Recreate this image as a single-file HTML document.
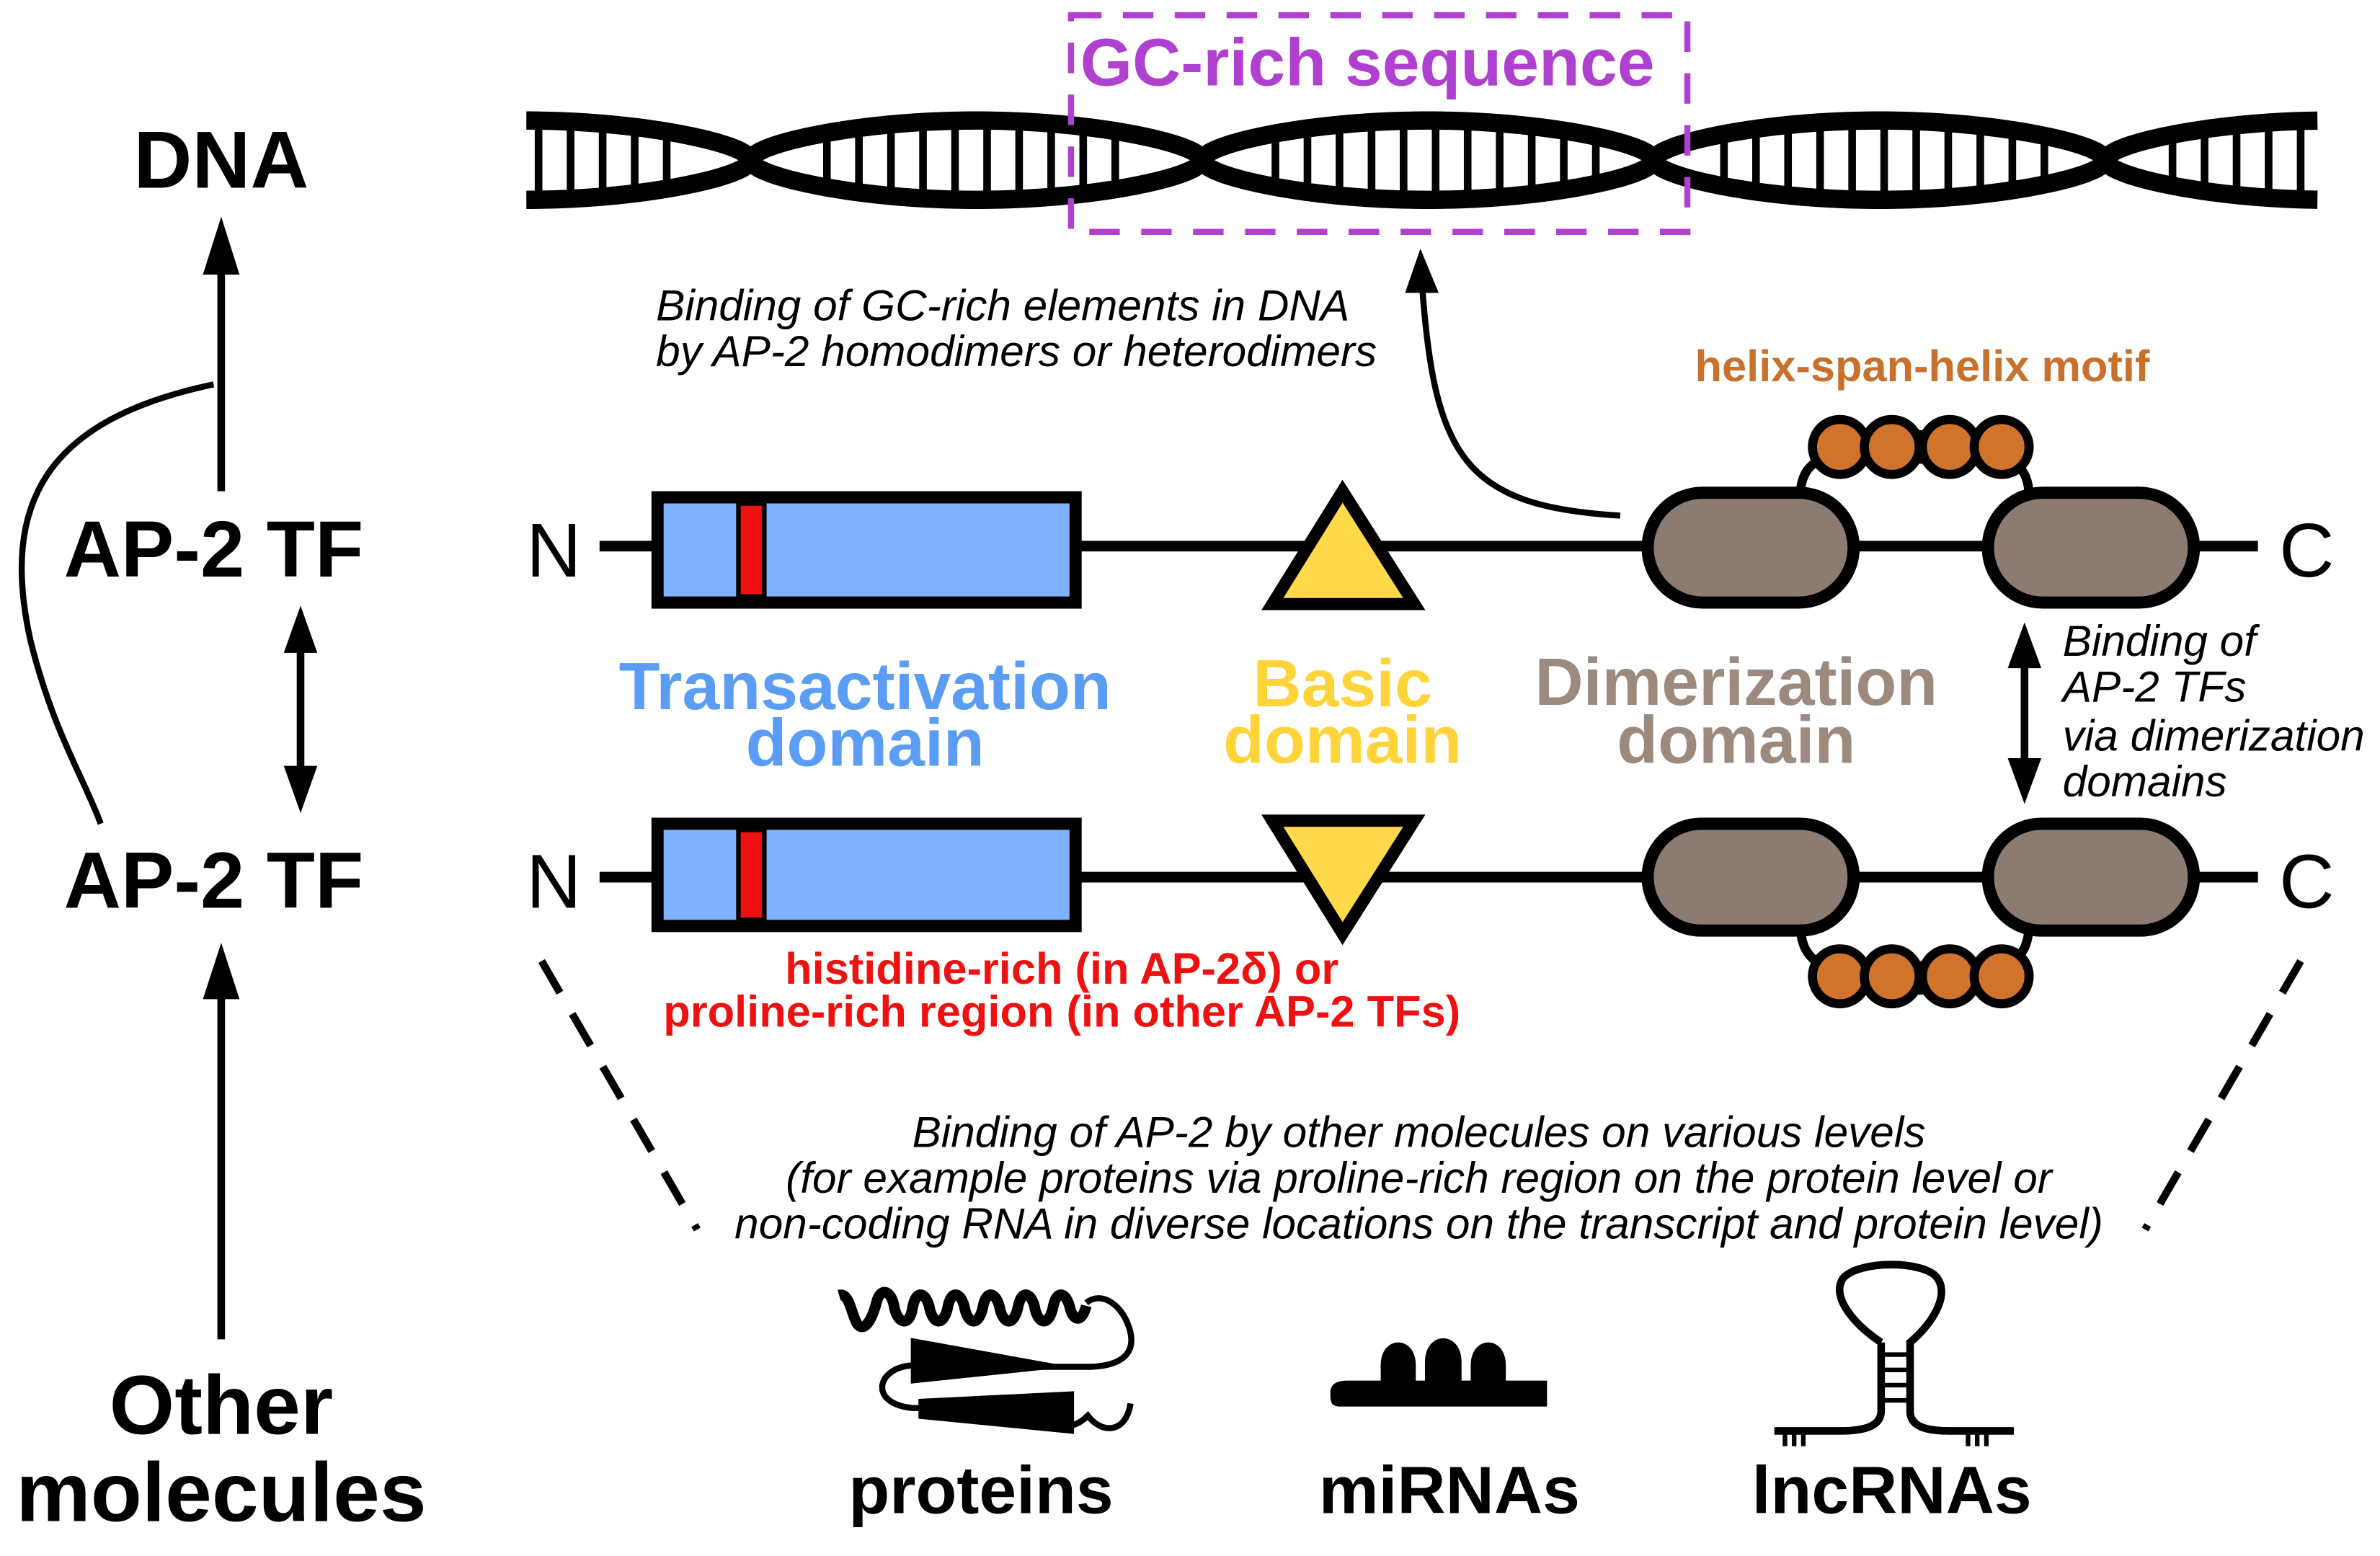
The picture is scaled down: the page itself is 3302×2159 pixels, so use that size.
<!DOCTYPE html>
<html><head><meta charset="utf-8"><style>
html,body{margin:0;padding:0;background:#fff;}
svg{display:block}
text{font-family:"Liberation Sans",sans-serif;}
.b{font-weight:bold}
.i{font-style:italic;font-size:28.5px}
</style></head><body>
<svg id="s" width="3302" height="2159" viewBox="0 0 1560 1020" preserveAspectRatio="none" xmlns="http://www.w3.org/2000/svg">
<g id="dna"></g>
<!-- GC box -->
<rect x="702" y="10" width="404" height="142" fill="none" stroke="#b040d0" stroke-width="4" stroke-dasharray="20 14"/>
<text x="708" y="56" class="b" font-size="44" fill="#b040d0">GC-rich sequence</text>

<!-- Left column -->
<text x="145" y="123" class="b" font-size="53" text-anchor="middle">DNA</text>
<line x1="145" y1="322" x2="145" y2="170" stroke="#000" stroke-width="5"/>
<polygon points="145,142 133,180 157,180" fill="#000"/>
<path d="M140,252 C 30,275 0,330 20,420 C 35,480 55,510 66,540" fill="none" stroke="#000" stroke-width="4"/>
<text x="140" y="378" class="b" font-size="52" text-anchor="middle">AP-2 TF</text>
<text x="140" y="595" class="b" font-size="52" text-anchor="middle">AP-2 TF</text>
<line x1="197" y1="420" x2="197" y2="510" stroke="#000" stroke-width="5"/>
<polygon points="197,397 186,428 208,428" fill="#000"/>
<polygon points="197,533 186,502 208,502" fill="#000"/>
<line x1="145" y1="878" x2="145" y2="645" stroke="#000" stroke-width="5"/>
<polygon points="145,618 133,655 157,655" fill="#000"/>
<text x="145" y="940" class="b" font-size="55" text-anchor="middle">Other</text>
<text x="145" y="997" class="b" font-size="55" text-anchor="middle">molecules</text>

<!-- Row 1 -->
<text x="363" y="378" font-size="50" text-anchor="middle">N</text>
<line x1="393" y1="358" x2="1480" y2="358" stroke="#000" stroke-width="7"/>
<rect x="431" y="326" width="274" height="69" fill="#7fb2ff" stroke="#000" stroke-width="8"/>
<rect x="484" y="330" width="17" height="61" fill="#ee1111" stroke="#000" stroke-width="3"/>
<polygon points="880,322 834,396 927,396" fill="#ffd94a" stroke="#000" stroke-width="8"/>
<g stroke="#000" stroke-width="6" fill="#d0732c">
<path d="M1180,326 C1180,312 1185,305 1195,300 M1330,326 C1330,312 1325,305 1315,300" fill="none"/>
<circle cx="1206" cy="293" r="18"/><circle cx="1240" cy="293" r="18"/><circle cx="1278" cy="293" r="18"/><circle cx="1312" cy="293" r="18"/>
</g>
<line x1="1259" y1="282" x2="1259" y2="304" stroke="#000" stroke-width="5"/>
<rect x="1080" y="323" width="135" height="72" rx="36" fill="#8c7b70" stroke="#000" stroke-width="8"/>
<rect x="1303" y="323" width="135" height="72" rx="36" fill="#8c7b70" stroke="#000" stroke-width="8"/>
<text x="1512" y="378" font-size="50" text-anchor="middle">C</text>

<!-- Row 2 -->
<text x="363" y="595" font-size="50" text-anchor="middle">N</text>
<line x1="393" y1="575" x2="1480" y2="575" stroke="#000" stroke-width="7"/>
<rect x="431" y="540" width="274" height="67" fill="#7fb2ff" stroke="#000" stroke-width="8"/>
<rect x="484" y="544" width="17" height="59" fill="#ee1111" stroke="#000" stroke-width="3"/>
<polygon points="834,538 927,538 880,612" fill="#ffd94a" stroke="#000" stroke-width="8"/>
<g stroke="#000" stroke-width="6" fill="#d0732c">
<path d="M1180,605 C1180,620 1185,628 1195,633 M1330,605 C1330,620 1325,628 1315,633" fill="none"/>
<circle cx="1206" cy="640" r="18"/><circle cx="1240" cy="640" r="18"/><circle cx="1278" cy="640" r="18"/><circle cx="1312" cy="640" r="18"/>
</g>
<line x1="1259" y1="630" x2="1259" y2="652" stroke="#000" stroke-width="5"/>
<rect x="1080" y="540" width="135" height="70" rx="35" fill="#8c7b70" stroke="#000" stroke-width="8"/>
<rect x="1303" y="540" width="135" height="70" rx="35" fill="#8c7b70" stroke="#000" stroke-width="8"/>
<text x="1512" y="595" font-size="50" text-anchor="middle">C</text>

<!-- Domain labels -->
<g class="b" font-size="44" text-anchor="middle">
<text x="567" y="465" fill="#5b9cf5">Transactivation</text>
<text x="567" y="502" fill="#5b9cf5">domain</text>
<text x="880" y="463" fill="#ffd43b">Basic</text>
<text x="880" y="500" fill="#ffd43b">domain</text>
<text x="1138" y="462" fill="#9b8a7d">Dimerization</text>
<text x="1138" y="500" fill="#9b8a7d">domain</text>
</g>
<text x="1260" y="250" class="b" font-size="29" fill="#c8702c" text-anchor="middle">helix-span-helix motif</text>

<text x="430" y="210" class="i">Binding of GC-rich elements in DNA</text>
<text x="430" y="240" class="i">by AP-2 homodimers or heterodimers</text>
<path d="M1062,338 C 960,332 940,300 932,185" fill="none" stroke="#000" stroke-width="4"/>
<polygon points="931,163 921,192 943,192" fill="#000"/>

<line x1="1327" y1="430" x2="1327" y2="505" stroke="#000" stroke-width="5"/>
<polygon points="1327,408 1316,438 1338,438" fill="#000"/>
<polygon points="1327,527 1316,497 1338,497" fill="#000"/>
<text x="1352" y="430" class="i">Binding of</text>
<text x="1352" y="460" class="i">AP-2 TFs</text>
<text x="1352" y="492" class="i">via dimerization</text>
<text x="1352" y="522" class="i">domains</text>

<text x="696" y="645" class="b" font-size="29" fill="#ee1111" text-anchor="middle">histidine-rich (in AP-2δ) or</text>
<text x="696" y="673" class="b" font-size="29" fill="#ee1111" text-anchor="middle">proline-rich region (in other AP-2 TFs)</text>

<line x1="355" y1="630" x2="457" y2="806" stroke="#000" stroke-width="5" stroke-dasharray="24 16"/>
<line x1="1508" y1="630" x2="1406" y2="806" stroke="#000" stroke-width="5" stroke-dasharray="24 16"/>
<text x="930" y="752" class="i" text-anchor="middle">Binding of AP-2 by other molecules on various levels</text>
<text x="930" y="782" class="i" text-anchor="middle">(for example proteins via proline-rich region on the protein level or</text>
<text x="930" y="812" class="i" text-anchor="middle">non-coding RNA in diverse locations on the transcript and protein level)</text>

<!-- proteins icon -->
<g fill="none" stroke="#000" stroke-width="7" stroke-linejoin="round">
<path d="M550,849 C557,847 558,862 562,868 C567,874 572,864 575,852 C578,844 584,846 586,856 C588,868 596,870 598,858 C600,846 606,846 609,856 C611,868 618,870 621,858 C623,846 629,846 632,856 C634,868 641,870 644,858 C646,846 652,846 655,856 C657,868 664,870 667,858 C669,846 675,846 678,856 C680,868 687,870 690,858 C692,846 698,846 701,856 C703,866 709,868 712,856"/>
</g>
<g fill="none" stroke="#000" stroke-width="4">
<path d="M712,854 C722,846 735,855 740,870 C745,885 738,895 715,896 L680,896"/>
<path d="M600,895 C 575,895 568,920 598,923 L610,923"/>
<path d="M690,934 C700,936 706,935 713,928 C722,940 738,940 741,920"/>
</g>
<polygon points="597,877 702,896 597,907" fill="#000"/>
<polygon points="602,917 704,912 704,940 602,930" fill="#000"/>
<!-- miRNA icon -->
<g fill="#000">
<path d="M872,913 C872,906 878,905 884,905 L1014,905 L1014,922 L878,922 C872,922 872,918 872,913 Z"/>
<path d="M905,906 L905,895 C905,875 928,875 928,895 L928,906 Z"/>
<path d="M934,906 L934,893 C934,872 958,872 958,893 L958,906 Z"/>
<path d="M964,906 L964,895 C964,875 987,875 987,895 L987,906 Z"/>
</g>
<!-- lncRNA icon -->
<g fill="none" stroke="#000" stroke-width="5">
<path d="M1233,880 C1215,868 1200,850 1208,838 C1218,826 1262,826 1270,838 C1278,850 1266,868 1252,880 L1252,925 C1252,935 1262,938 1278,938 L1320,938"/>
<path d="M1233,880 L1233,925 C1233,935 1222,938 1206,938 L1163,938"/>
</g>
<g stroke="#000" stroke-width="3">
<line x1="1233" y1="888" x2="1252" y2="888"/><line x1="1233" y1="898" x2="1252" y2="898"/><line x1="1233" y1="908" x2="1252" y2="908"/><line x1="1233" y1="918" x2="1252" y2="918"/>
<line x1="1170" y1="938" x2="1170" y2="948"/><line x1="1176" y1="938" x2="1176" y2="948"/><line x1="1182" y1="938" x2="1182" y2="948"/>
<line x1="1290" y1="938" x2="1290" y2="948"/><line x1="1296" y1="938" x2="1296" y2="948"/><line x1="1302" y1="938" x2="1302" y2="948"/>
</g>
<g class="b" font-size="44" text-anchor="middle">
<text x="643" y="992">proteins</text>
<text x="950" y="992">miRNAs</text>
<text x="1240" y="992">lncRNAs</text>
</g>
</svg>
<script>
(function(){
var g=document.getElementById('dna'),ns='http://www.w3.org/2000/svg';
var x0=345,x1=1520,cy=105,A=26,P=296,ph=492;
function y(x,s){var t=Math.sin(Math.PI*(x-ph)/P);var v=Math.sign(t)*Math.pow(Math.abs(t),0.55);return cy+s*A*v;}
var h='';
for(var x=x0+8;x<=x1-4;x+=21){var m=((x-ph)%P+P)%P;if(m<38||m>P-38)continue;
var a=y(x,1),b=y(x,-1);h+='M'+x+','+Math.min(a,b)+'L'+x+','+Math.max(a,b);}
var r=document.createElementNS(ns,'path');r.setAttribute('d',h);r.setAttribute('stroke','#000');r.setAttribute('stroke-width','5');g.appendChild(r);
[1,-1].forEach(function(s){var d='';for(var x=x0;x<=x1;x+=2){d+=(x==x0?'M':'L')+x+','+y(x,s).toFixed(2);}
var p=document.createElementNS(ns,'path');p.setAttribute('d',d);p.setAttribute('fill','none');p.setAttribute('stroke','#000');p.setAttribute('stroke-width','12');g.appendChild(p);});
})();
</script>
</body></html>
